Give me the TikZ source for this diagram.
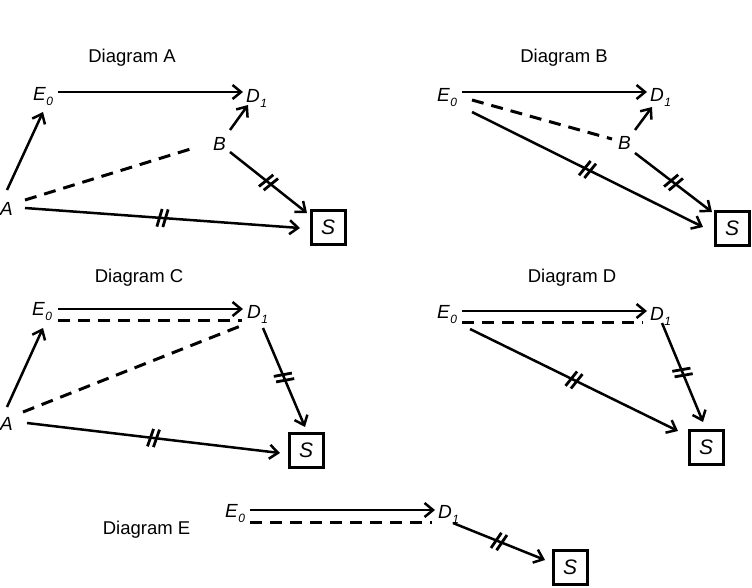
\documentclass[tikz,border=0pt]{standalone}
\usepackage{fontspec}
\setmainfont{Liberation Sans}
\usetikzlibrary{arrows.meta,decorations.markings}
\newcommand\mysub[1]{\hspace{0.5pt}\raisebox{-5pt}{\fontsize{12}{12}\selectfont\itshape #1}}
\begin{document}
\begin{tikzpicture}[x=1pt,y=-1pt,
  lbl/.style={anchor=base west,inner sep=0pt,font=\fontsize{19}{19}\selectfont\itshape},
  ttl/.style={anchor=base,inner sep=0pt,font=\fontsize{18.5}{18.5}\selectfont},
  sbox/.style={draw,line width=3pt,minimum size=34pt,inner sep=0pt,font=\fontsize{21}{21}\selectfont\itshape},
  arr/.style={line width=2.5pt,-{Straight Barb[length=8.5pt,width=14pt,line width=2.5pt]}},
  dsh/.style={line width=3pt,dash pattern=on 12pt off 8pt},
  brk/.style={postaction={decorate,decoration={markings,mark=at position 0.5 with {
      \draw[line width=2.8pt,-] (-5pt,-9pt) -- (-1pt,9pt);
      \draw[line width=2.8pt,-] (1pt,-9pt) -- (5pt,9pt);}}}}
]
\useasboundingbox (0,0) rectangle (752,587);
% ---------- Diagram A
\node[ttl] (tA) at (132,62) {Diagram A};
\node[lbl] (Ea) at (33,100) {E\mysub{0}};
\node[lbl] (Da) at (246,102) {D\mysub{1}};
\node[lbl] (Ba) at (213,150) {B};
\node[lbl] (Aa) at (0,215) {A};
\node[sbox] (Sa) at (328,227) {S};
\draw[arr] ([shift={(25,-8)}]Ea.base west) -- ([shift={(-3,-10)}]Da.base west);
\draw[arr] ([shift={(7,-25)}]Aa.base west) -- ([shift={(10,12)}]Ea.base west);
\draw[arr] ([shift={(17,-20)}]Ba.base west) -- ([shift={(2,3)}]Da.base west);
\draw[dsh] ([shift={(25,-15)}]Aa.base west) -- ([shift={(-16,-3)}]Ba.base west);
\draw[arr,brk] ([shift={(17,2)}]Ba.base west) -- ([shift={(-21,-14)}]Sa.center);
\draw[arr,brk] ([shift={(25,-7)}]Aa.base west) -- ([shift={(-28,1)}]Sa.center);
% ---------- Diagram B
\node[ttl] (tB) at (564,62) {Diagram B};
\node[lbl] (Eb) at (437,101) {E\mysub{0}};
\node[lbl] (Db) at (650,101) {D\mysub{1}};
\node[lbl] (Bb) at (618,149) {B};
\node[sbox] (Sb) at (732,228) {S};
\draw[arr] ([shift={(25,-9)}]Eb.base west) -- ([shift={(-3,-9)}]Db.base west);
\draw[dsh] ([shift={(35,-1)}]Eb.base west) -- ([shift={(-6,-10)}]Bb.base west);
\draw[arr] ([shift={(17,-19)}]Bb.base west) -- ([shift={(2,6)}]Db.base west);
\draw[arr,brk] ([shift={(17,4)}]Bb.base west) -- ([shift={(-20,-16)}]Sb.center);
\draw[arr,brk] ([shift={(35,11)}]Eb.base west) -- ([shift={(-29,-1)}]Sb.center);
% ---------- Diagram C
\node[ttl] (tC) at (139,282) {Diagram C};
\node[lbl] (Ec) at (32,315) {E\mysub{0}};
\node[lbl] (Dc) at (247,318) {D\mysub{1}};
\node[lbl] (Ac) at (0,430) {A};
\node[sbox] (Sc) at (306,450) {S};
\draw[arr] ([shift={(26,-6)}]Ec.base west) -- ([shift={(-4,-9)}]Dc.base west);
\draw[dsh] ([shift={(26,5)}]Ec.base west) -- ([shift={(-5,2)}]Dc.base west);
\draw[arr] ([shift={(7,-23)}]Ac.base west) -- ([shift={(11,13)}]Ec.base west);
\draw[dsh] ([shift={(23,-18)}]Ac.base west) -- ([shift={(-4,7)}]Dc.base west);
\draw[arr,brk] ([shift={(16,10)}]Dc.base west) -- ([shift={(-1,-23)}]Sc.center);
\draw[arr,brk] ([shift={(27,-7)}]Ac.base west) -- ([shift={(-26,3)}]Sc.center);
% ---------- Diagram D
\node[ttl] (tD) at (572,282) {Diagram D};
\node[lbl] (Ed) at (437,318) {E\mysub{0}};
\node[lbl] (Dd) at (650,320) {D\mysub{1}};
\node[sbox] (Sd) at (706,447) {S};
\draw[arr] ([shift={(25,-7)}]Ed.base west) -- ([shift={(-3,-9)}]Dd.base west);
\draw[dsh] ([shift={(25,4)}]Ed.base west) -- ([shift={(-7,2)}]Dd.base west);
\draw[arr,brk] ([shift={(33,11)}]Ed.base west) -- ([shift={(-28,-16)}]Sd.center);
\draw[arr,brk] ([shift={(12,3)}]Dd.base west) -- ([shift={(-3,-25)}]Sd.center);
% ---------- Diagram E
\node[ttl] (tE) at (146.5,534) {Diagram E};
\node[lbl] (Ee) at (225,517) {E\mysub{0}};
\node[lbl] (De) at (438,518) {D\mysub{1}};
\node[sbox] (Se) at (570,567) {S};
\draw[arr] ([shift={(25,-7)}]Ee.base west) -- ([shift={(-3,-8)}]De.base west);
\draw[dsh] ([shift={(25,5)}]Ee.base west) -- ([shift={(-6,4)}]De.base west);
\draw[arr,brk] ([shift={(15,5)}]De.base west) -- ([shift={(-25,-7)}]Se.center);
\end{tikzpicture}
\end{document}
